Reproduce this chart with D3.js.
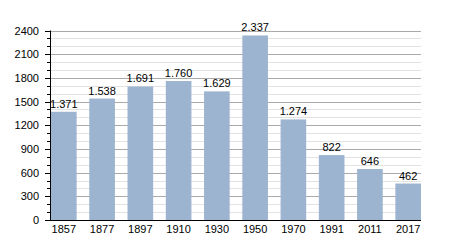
<!DOCTYPE html>
<html>
<head>
<meta charset="utf-8">
<script src="https://cdn.jsdelivr.net/npm/d3@7"></script>
<style>
  body { margin: 0; background: #fff; }
  text { font-family: "Liberation Sans", Arial, sans-serif; font-size: 11px; fill: #000; }
</style>
</head>
<body>
<script>
const years = ["1857", "1877", "1897", "1910", "1930", "1950", "1970", "1991", "2011", "2017"];
const population = [1371, 1538, 1691, 1760, 1629, 2337, 1274, 822, 646, 462];
const majorTicks = [0, 300, 600, 900, 1200, 1500, 1800, 2100, 2400];

const width = 450;
const height = 250;
const plotLeft = 50, plotRight = 421, plotTop = 30.5, plotBottom = 220;

const svg = d3.select("body").append("svg")
    .attr("width", width)
    .attr("height", height);

const x = d3.scaleBand()
    .domain(years)
    .range([plotLeft + 1, plotRight])
    .paddingInner(0.33)
    .paddingOuter(0);

const y = d3.scaleLinear()
    .domain([0, 2400])
    .range([plotBottom, plotTop]);

const fmt = v => d3.format(",")(v).replace(/,/g, ".");

// minor gridlines every 100
const minor = d3.range(100, 2400, 100).filter(v => v % 300 !== 0);
svg.append("g").selectAll("line")
    .data(minor)
    .enter().append("line")
    .attr("x1", plotLeft).attr("x2", plotRight)
    .attr("y1", d => Math.round(y(d)) + 0.5)
    .attr("y2", d => Math.round(y(d)) + 0.5)
    .attr("stroke", "#e2e2e2");

// major gridlines
svg.append("g").selectAll("line")
    .data(majorTicks.filter(v => v > 0))
    .enter().append("line")
    .attr("x1", plotLeft).attr("x2", plotRight)
    .attr("y1", d => Math.round(y(d)) + 0.5)
    .attr("y2", d => Math.round(y(d)) + 0.5)
    .attr("stroke", "#aaaaaa");

// bars
svg.append("g").selectAll("rect")
    .data(years)
    .enter().append("rect")
    .attr("x", d => x(d))
    .attr("width", x.bandwidth())
    .attr("y", (d, i) => y(population[i]))
    .attr("height", (d, i) => plotBottom - y(population[i]))
    .attr("fill", "#9cb4d0");

// value labels
svg.append("g").selectAll("text")
    .data(years)
    .enter().append("text")
    .attr("x", d => x(d) + x.bandwidth() / 2)
    .attr("y", (d, i) => y(population[i]) - 4)
    .attr("text-anchor", "middle")
    .text((d, i) => fmt(population[i]));

// y axis
const yAxis = svg.append("g");
yAxis.append("line")
    .attr("x1", plotLeft + 0.5).attr("x2", plotLeft + 0.5)
    .attr("y1", plotTop).attr("y2", plotBottom + 1)
    .attr("stroke", "#000");
yAxis.selectAll(".minor")
    .data(d3.range(0, 2401, 100))
    .enter().append("line")
    .attr("x1", plotLeft - 3).attr("x2", plotLeft)
    .attr("y1", d => Math.round(y(d)) + 0.5)
    .attr("y2", d => Math.round(y(d)) + 0.5)
    .attr("stroke", "#000");
yAxis.selectAll(".major")
    .data(majorTicks)
    .enter().append("line")
    .attr("x1", plotLeft - 5).attr("x2", plotLeft)
    .attr("y1", d => Math.round(y(d)) + 0.5)
    .attr("y2", d => Math.round(y(d)) + 0.5)
    .attr("stroke", "#000");
yAxis.selectAll("text")
    .data(majorTicks)
    .enter().append("text")
    .attr("x", plotLeft - 11)
    .attr("y", d => y(d) + 4)
    .attr("text-anchor", "end")
    .text(d => d);

// x axis baseline
svg.append("line")
    .attr("x1", plotLeft).attr("x2", plotRight)
    .attr("y1", plotBottom + 0.5).attr("y2", plotBottom + 0.5)
    .attr("stroke", "#000");

svg.append("g").selectAll("text")
    .data(years)
    .enter().append("text")
    .attr("x", d => x(d) + x.bandwidth() / 2)
    .attr("y", plotBottom + 13)
    .attr("text-anchor", "middle")
    .text(d => d);
</script>
</body>
</html>
